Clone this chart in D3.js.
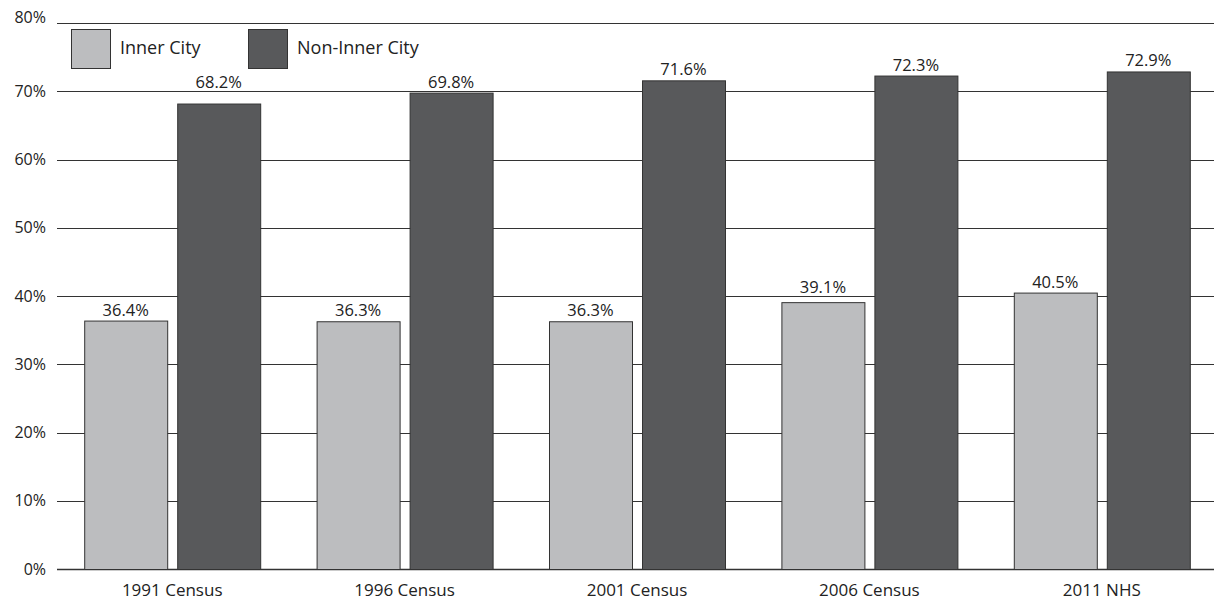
<!DOCTYPE html>
<html><head><meta charset="utf-8">
<script src="https://cdn.jsdelivr.net/npm/d3@7"></script>
<style>body{margin:0;background:#fff}svg{display:block}text{font-family:"Open Sans",Lato,sans-serif;fill:#222}</style>
</head><body>
<script>
const categories = ["1991 Census","1996 Census","2001 Census","2006 Census","2011 NHS"];
const innerCity = [36.4,36.3,36.3,39.1,40.5];
const nonInnerCity = [68.2,69.8,71.6,72.3,72.9];
const seriesNames = ["Inner City","Non-Inner City"];
const yTicks = [0,10,20,30,40,50,60,70,80];

const W=1214,H=606;
const colors=["#bcbdbf","#58595b"];
const svg=d3.select("body").append("svg").attr("width",W).attr("height",H);
const y=d3.scaleLinear().domain([0,80]).range([569,23]);
const x=d3.scaleBand().domain(categories).range([56,1218]).padding(0);

svg.append("g").selectAll("line").data(yTicks).join("line")
  .attr("x1",57).attr("x2",W).attr("y1",d=>Math.round(y(d))+0.5).attr("y2",d=>Math.round(y(d))+0.5)
  .attr("stroke","#333").attr("stroke-width",d=>d===0?1.5:1);

svg.append("g").selectAll("text").data(yTicks).join("text")
  .attr("x",46).attr("y",d=>y(d)+(d===80?-6:0)).attr("dy","0.35em").attr("text-anchor","end")
  .attr("font-size",16).text(d=>d+"%");

// label baseline: 5px above bar top, lifted above a gridline that would cross the text
function labelY(v){
  let b=y(v)-5;
  yTicks.forEach(t=>{const g=y(t); if(g<b+2 && g>b-13) b=g-3;});
  return b;
}

const bw=83;
const series=[innerCity,nonInnerCity];
const offs=[-88,5];
series.forEach((vals,si)=>{
  const g=svg.append("g");
  g.selectAll("rect").data(vals).join("rect")
    .attr("x",(d,i)=>x(categories[i])+x.bandwidth()/2+offs[si]+0.5)
    .attr("y",d=>y(d)+0.5).attr("width",bw).attr("height",d=>y(0)-y(d))
    .attr("fill",colors[si]).attr("stroke","#333").attr("stroke-width",1);
  g.selectAll("text").data(vals).join("text")
    .attr("x",(d,i)=>x(categories[i])+x.bandwidth()/2+offs[si]+bw/2)
    .attr("y",d=>labelY(d)).attr("text-anchor","middle").attr("font-size",16.5)
    .text(d=>d.toFixed(1)+"%");
});

svg.append("g").selectAll("text").data(categories).join("text")
  .attr("x",d=>x(d)+x.bandwidth()/2).attr("y",596).attr("text-anchor","middle")
  .attr("font-size",17).text(d=>d);

const lx=[71,248];
seriesNames.forEach((n,i)=>{
  svg.append("rect").attr("x",lx[i]+0.5).attr("y",29.5).attr("width",39).attr("height",39)
    .attr("fill",colors[i]).attr("stroke","#333");
  svg.append("text").attr("x",lx[i]+49).attr("y",48).attr("dy","0.35em").attr("font-size",18).text(n);
});
</script>
</body></html>
